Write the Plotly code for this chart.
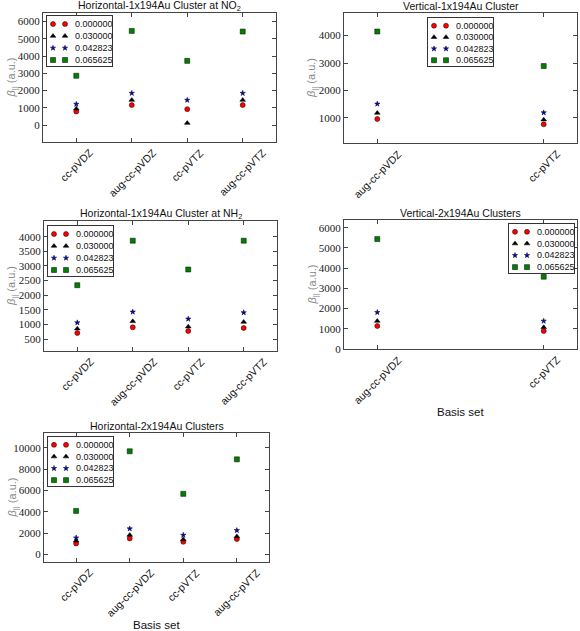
import plotly.graph_objects as go

# ---------------- data ----------------
basis_four = ["cc-pVDZ", "aug-cc-pVDZ", "cc-pVTZ", "aug-cc-pVTZ"]
basis_two = ["aug-cc-pVDZ", "cc-pVTZ"]
field_labels = ["0.000000", "0.030000", "0.042823", "0.065625"]

# Horizontal-1x194Au Cluster at NO2
h1_no2_f0 = [790, 1160, 925, 1160]
h1_no2_f1 = [945, 1450, 115, 1450]
h1_no2_f2 = [1215, 1850, 1450, 1850]
h1_no2_f3 = [2860, 5460, 3725, 5425]

# Vertical-1x194Au Cluster
v1_f0 = [963, 768]
v1_f1 = [1183, 939]
v1_f2 = [1512, 1195]
v1_f3 = [4146, 2890]

# Horizontal-1x194Au Cluster at NH2
h1_nh2_f0 = [706, 900, 775, 877]
h1_nh2_f1 = [855, 1106, 923, 1083]
h1_nh2_f2 = [1060, 1427, 1186, 1404]
h1_nh2_f3 = [2342, 3865, 2880, 3865]

# Vertical-2x194Au Clusters
v2_f0 = [1137, 890]
v2_f1 = [1384, 1071]
v2_f2 = [1812, 1384]
v2_f3 = [5437, 3575]

# Horizontal-2x194Au Clusters
h2_f0 = [1038, 1509, 1195, 1447]
h2_f1 = [1289, 1824, 1415, 1698]
h2_f2 = [1572, 2421, 1824, 2264]
h2_f3 = [4088, 9686, 5692, 8931]

# ---------------- layout helpers ----------------
W, H = 580, 631


def xd(a, b):
    return [a / W, b / W]


def yd(top, bottom):
    return [1 - bottom / H, 1 - top / H]


styles = [
    dict(symbol="circle", color="#ff0000", size=5),
    dict(symbol="triangle-up", color="#000000", size=5),
    dict(symbol="star", color="#0000dd", size=4),
    dict(symbol="square", color="#008000", size=5),
]

# legend key layout (in legend-box units: x 0..6.5, rows 0..3)
legend_key_x = [0.6, 1.8]
legend_text_x = 2.6

panels = [
    dict(title="Horizontal-1x194Au Cluster at NO<sub>2</sub>", cats=basis_four,
         series=[h1_no2_f0, h1_no2_f1, h1_no2_f2, h1_no2_f3],
         box=(43, 276, 13, 142), yrange=[-980, 6500],
         ticks=[0, 1000, 2000, 3000, 4000, 5000, 6000],
         leg=(47, 112, 16, 66), xtitle=None),
    dict(title="Vertical-1x194Au Cluster", cats=basis_two,
         series=[v1_f0, v1_f1, v1_f2, v1_f3],
         box=(344, 577, 13, 143), yrange=[90, 4820],
         ticks=[1000, 2000, 3000, 4000],
         leg=(428, 493, 18, 66), xtitle=None),
    dict(title="Horizontal-1x194Au Cluster at NH<sub>2</sub>", cats=basis_four,
         series=[h1_nh2_f0, h1_nh2_f1, h1_nh2_f2, h1_nh2_f3],
         box=(44, 277, 221, 351), yrange=[90, 4540],
         ticks=[500, 1000, 1500, 2000, 2500, 3000, 3500, 4000],
         leg=(48, 113, 226, 276), xtitle=None),
    dict(title="Vertical-2x194Au Clusters", cats=basis_two,
         series=[v2_f0, v2_f1, v2_f2, v2_f3],
         box=(344, 577, 220, 349), yrange=[0, 6380],
         ticks=[0, 1000, 2000, 3000, 4000, 5000, 6000],
         leg=(509, 574, 224, 273), xtitle="Basis set"),
    dict(title="Horizontal-2x194Au Clusters", cats=basis_four,
         series=[h2_f0, h2_f1, h2_f2, h2_f3],
         box=(44, 269, 433, 562), yrange=[-700, 11400],
         ticks=[0, 2000, 4000, 6000, 8000, 10000],
         leg=(48, 113, 437, 486), xtitle="Basis set"),
]

fig = go.Figure()
layout = dict(
    width=W, height=H,
    margin=dict(l=0, r=0, t=0, b=0),
    paper_bgcolor="white", plot_bgcolor="white",
    font=dict(family="Liberation Sans", color="#111"),
    showlegend=False,
    annotations=[],
)

n_panels = len(panels)
for i, p in enumerate(panels):
    n = i + 1
    sfx = "" if n == 1 else str(n)
    lsfx = str(n_panels + n)  # axis id for the legend box
    x0, x1, t, b = p["box"]
    ncat = len(p["cats"])
    pad = 0.6 if ncat == 4 else 0.2
    for s, vals in zip(styles, p["series"]):
        fig.add_trace(go.Scatter(
            x=p["cats"], y=vals, mode="markers",
            marker=dict(symbol=s["symbol"], color=s["color"], size=s["size"],
                        line=dict(color="black", width=0.5)),
            xaxis="x" + sfx, yaxis="y" + sfx, hoverinfo="x+y",
        ))
    layout["xaxis" + sfx] = dict(
        domain=xd(x0, x1), anchor="y" + sfx, type="category",
        categoryorder="array", categoryarray=p["cats"],
        range=[-pad, ncat - 1 + pad], showgrid=False, zeroline=False,
        showline=True, linecolor="#444", linewidth=1, mirror="ticks",
        ticks="inside", ticklen=4, tickcolor="#444", showticklabels=False,
        automargin=False,
    )
    layout["yaxis" + sfx] = dict(
        domain=yd(t, b), anchor="x" + sfx, range=p["yrange"],
        tickvals=p["ticks"], tickformat="d", showgrid=False, zeroline=False,
        showline=True, linecolor="#444", linewidth=1, mirror="ticks",
        ticks="inside", ticklen=4, tickcolor="#444",
        tickfont=dict(family="Liberation Serif", size=11, color="#222"),
        automargin=False,
    )
    # rotated category labels, centred on their ticks (matplotlib style)
    for c in p["cats"]:
        layout["annotations"].append(dict(
            text=c, x=c, xref="x" + sfx, y=0, yref="y" + sfx + " domain",
            xanchor="center", yanchor="top", yshift=-3, textangle=-45,
            showarrow=False, borderpad=0,
            font=dict(family="Liberation Sans", size=10.5, color="#111"),
        ))
    # legend box drawn on its own small axis pair
    lx0, lx1, lt, lb = p["leg"]
    for r, (s, lab) in enumerate(zip(styles, field_labels)):
        fig.add_trace(go.Scatter(
            x=legend_key_x, y=[r] * len(legend_key_x), mode="markers",
            marker=dict(symbol=s["symbol"], color=s["color"], size=s["size"],
                        line=dict(color="black", width=0.5)),
            xaxis="x" + lsfx, yaxis="y" + lsfx, hoverinfo="skip",
        ))
        layout["annotations"].append(dict(
            text=lab, x=legend_text_x, y=r, xref="x" + lsfx, yref="y" + lsfx,
            xanchor="left", yanchor="middle", showarrow=False,
            font=dict(family="Liberation Sans", size=9, color="#111"),
        ))
    layout["xaxis" + lsfx] = dict(
        domain=xd(lx0, lx1), anchor="y" + lsfx, range=[0, 6.5],
        showgrid=False, zeroline=False, showticklabels=False, ticks="",
        showline=True, mirror=True, linecolor="#333", linewidth=1,
        fixedrange=True,
    )
    layout["yaxis" + lsfx] = dict(
        domain=yd(lt, lb), anchor="x" + lsfx, range=[3.5, -0.67],
        showgrid=False, zeroline=False, showticklabels=False, ticks="",
        showline=True, mirror=True, linecolor="#333", linewidth=1,
        fixedrange=True,
    )
    # title
    layout["annotations"].append(dict(
        text=p["title"], x=(x0 + x1) / 2 / W, y=1 - (t - 7) / H,
        xref="paper", yref="paper", xanchor="center", yanchor="middle",
        showarrow=False, font=dict(family="Liberation Sans", size=10.5, color="#111"),
    ))
    # y label
    layout["annotations"].append(dict(
        text="<i>β</i><sub>||</sub> (a.u.)", x=(x0 - 32) / W, y=1 - (t + b) / 2 / H,
        xref="paper", yref="paper", xanchor="center", yanchor="middle",
        textangle=-90, showarrow=False,
        font=dict(family="Liberation Sans", size=11, color="#888"),
    ))
    if p["xtitle"]:
        layout["annotations"].append(dict(
            text=p["xtitle"], x=(x0 + x1) / 2 / W, y=1 - (b + 63) / H,
            xref="paper", yref="paper", xanchor="center", yanchor="middle",
            showarrow=False, font=dict(family="Liberation Sans", size=11.5, color="#111"),
        ))

fig.update_layout(**layout)
fig.write_html(
    "out.html",
    config={"displayModeBar": False},
    post_script="document.body.style.margin='0';document.body.style.padding='0';",
)
